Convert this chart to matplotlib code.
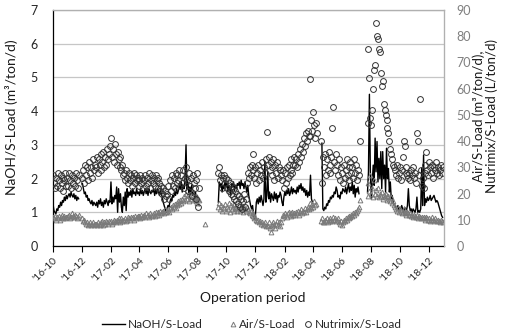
import numpy as np
import pandas as pd
import matplotlib
matplotlib.use('Agg')
import matplotlib.pyplot as plt
import matplotlib.dates as mdates
from matplotlib.lines import Line2D

nan = np.nan
start_date = '2016-10-01'
step = '2D'

# NaOH/S-Load (m3/ton/d), left axis; one row = 15 samples (30 days)
naoh = [
 1.25, 1.05, 1.0, 0.95, 1.1, 1.05, 1.2, 1.15, 1.3, 1.2, 1.35, 1.3, 1.45, 1.35, 1.5,
 1.4, 1.5, 1.55, 1.45, 1.6, 1.5, 1.45, 1.55, 1.4, 1.5, 1.35, 1.45, 1.4, nan, nan,
 nan, 1.85, 1.7, 1.55, 1.6, 1.45, 1.5, 1.35, 1.4, 1.3, 1.25, 1.35, 1.2, 1.3, 1.25,
 1.2, 1.3, 1.15, 1.35, 1.25, 1.4, 1.2, 1.3, 1.15, 1.35, 1.25, 1.4, 1.3, 1.2, 1.35,
 1.3, 1.9, 1.25, 1.45, 1.3, 1.5, 1.4, 1.75, 1.0, 1.7, 1.3, 1.55, 1.15, 1.0, 1.45,
 1.2, 1.6, 1.05, 1.7, 1.45, 1.6, 1.5, 1.65, 1.45, 1.7, 1.55, 1.6, 1.5, 1.7, 1.55,
 1.6, 1.5, 1.7, 1.55, 1.65, 1.5, 1.6, 1.7, 1.55, 1.65, 1.5, 1.7, 1.6, 1.55, 1.65,
 1.6, 1.7, 1.5, 1.65, 1.55, 1.7, 1.6, 1.5, 1.65, 1.55, 1.45, 1.3, 1.2, 1.1, 1.0,
 1.1, 1.2, 1.15, 1.3, 1.4, 1.35, 1.5, 1.45, 1.6, 1.5, 1.7, 1.55, 1.65, 1.8, 1.7,
 1.9, 1.6, 1.8, 1.7, 2.05, 3.0, 1.7, 1.9, 1.55, 1.75, 1.6, 1.8, 1.5, 1.65, 1.4,
 1.6, 1.3, 1.5, 1.25, 1.2, nan, nan, nan, nan, nan, nan, nan, nan, nan, nan,
 nan, nan, nan, nan, nan, nan, nan, nan, nan, 1.3, 1.9, 1.75, 1.85, 1.6, 1.8,
 1.7, 1.9, 1.75, 1.85, 1.6, 1.8, 1.7, 1.5, 1.85, 1.75, 1.9, 1.65, 1.8, 1.7, 1.85,
 1.8, 1.9, 1.7, 1.95, 1.8, 1.85, 1.7, 1.9, 1.75, 1.6, 1.8, 1.5, 1.35, 1.2, 1.1,
 1.2, 0.95, 0.8, 0.9, 1.3, 1.4, 1.25, 1.45, 1.3, 1.5, 1.35, 1.2, 1.4, 2.5, 1.3,
 1.5, 2.2, 1.4, 1.6, 1.3, 1.55, 1.45, 1.35, 1.6, 1.4, 1.55, 1.3, 1.5, 1.45, 1.6,
 1.5, 1.3, 1.2, 1.45, 1.6, 1.5, 1.65, 1.55, 1.7, 1.5, 1.6, 1.75, 1.55, 1.7, 1.6,
 1.65, 1.55, 1.75, 1.6, 1.8, 1.7, 1.85, 1.65, 1.75, 1.6, 1.7, 1.5, 1.65, 1.45, 1.6,
 1.5, 2.1, 1.4, 1.3, nan, nan, nan, nan, nan, nan, nan, nan, nan, 3.05, 1.1,
 1.05, 1.15, 1.1, 1.25, 1.2, 1.35, 1.3, 1.45, 1.4, 1.5, 1.45, 1.6, 1.55, 1.75, 1.65,
 1.45, 1.5, 1.4, 1.6, 1.55, 1.7, 1.65, 1.6, 1.75, 1.55, 1.7, 1.85, 1.6, 1.75, 1.65,
 1.9, 1.55, 1.8, 1.45, 1.7, 1.6, 1.75, 1.55, nan, nan, nan, nan, nan, nan, nan,
 nan, 1.6, 2.2, 4.5, 2.2, 1.4, 1.9, 2.4, 1.8, 3.2, 2.2, 3.1, 1.9, 2.6, 2.0,
 2.8, 1.7, 2.8, 2.0, 2.4, 1.6, 2.9, 2.0, 2.3, 1.6, 1.9, 1.4, 1.5, 1.3, 1.2,
 1.2, 1.15, 1.1, 1.2, 1.05, 1.15, 1.1, 1.2, 1.1, 1.0, 1.15, 1.1, 1.05, 1.2, 1.7,
 1.2, 1.05, 1.1, 1.0, 1.1, 1.05, 1.0, 1.1, 1.45, 1.0, 1.05, 1.0, 1.1, 2.3, 1.2,
 2.7, 1.2, 1.4, 1.3, 1.45, 1.35, 1.4, 1.5, 1.35, 1.4, 1.45, 1.5, 1.4, 1.3, 1.35,
 1.3, 1.2, 1.1, 1.0, 0.9, 0.85,
]

# Air/S-Load (m3/ton/d), right axis
air = [
 11, 10.5, 11.5, 10, 11, 10.5, 11.5, 10, 11, 12, 10.5, 11, 11.5, 10.5, 11,
 11, 11.5, 12, 10.5, 11, 12.5, 11.5, 11, 12, 11.5, 10.5, 11, 12, nan, nan,
 nan, 10.5, 9.5, 10, 9, 8.5, 9, 8, 8.5, 9, 8, 8.5, 9, 8, 8.5,
 8.5, 8, 9, 8.5, 8, 9, 8.5, 9.5, 8, 9, 8.5, 9.5, 9, 8.5, 9.5,
 9, 9.5, 8.5, 9, 10, 9.5, 9, 10, 9.5, 10.5, 9, 10, 10.5, 9.5, 10,
 10, 10.5, 9.5, 10, 11, 10.5, 10, 11, 10.5, 11, 10, 11.5, 10.5, 11, 11.5,
 11, 11.5, 10.5, 12, 11, 11.5, 12, 11, 12.5, 11.5, 12, 11, 12.5, 12, 11.5,
 12, 12.5, 11.5, 13, 12, 12.5, 13, 12, 13.5, 12.5, 13, 13.5, 12.5, 14, 13,
 13.5, 14, 13, 14.5, 15, 14, 15.5, 15, 16, 14.5, 16.5, 15.5, 17, 16, 17.5,
 16.5, 18, 17, 19, 17.5, 20, 18, 19.5, 17, 19, 18, 20.5, 17.5, 19, 18,
 17, 19, 16.5, 18, 17.5, nan, nan, nan, nan, nan, 8.3, nan, nan, nan, nan,
 nan, nan, nan, nan, nan, nan, nan, nan, nan, 15, 16.5, 14, 15.5, 13.5, 15,
 14.5, 16, 13.5, 15, 14, 16.5, 13, 15.5, 14, 15, 13.5, 16, 14.5, 15, 13.5,
 14, 15.5, 13.5, 15, 14.5, 13, 15, 14, 13.5, 15, 14, 13, 12.5, 13.5, 12,
 11.5, 12.5, 10.5, 11, 10, 9.5, 10, 9, 9.5, 8.5, 9, 8, 8.5, 9, 7.5,
 8, 7.5, 9, 7, 5.3, 8.5, 7.5, 9, 8, 7, 8.5, 9.5, 8, 9, 7.5,
 9, 10.5, 12, 11.5, 12.5, 12, 11, 12.5, 13, 12, 11.5, 12.5, 13, 12, 12.5,
 12, 13, 12.5, 13.5, 12, 13, 14, 12.5, 13.5, 13, 14.5, 13, 14, 15, 14,
 15, 16.5, 14.5, 16, 15, 17, 15.5, 16, nan, nan, nan, nan, 9.5, 10.5, 9,
 9, 10, 9.5, 10.5, 9, 10, 9.5, 10.5, 10, 9.5, 11, 10, 10.5, 9.5, 10,
 10.5, 9, 8.5, 9.5, 8, 9, 10, 9.5, 10.5, 10, 11, 10.5, 11.5, 11, 12,
 11.5, 12.5, 12, 13, 12.5, 13.5, 14, 15, 17.5, nan, nan, nan, nan, nan, nan,
 nan, 19, 24, 21, 27, 20, 22, 18.5, 25, 20, 21.5, 19, 22, 18.5, 20,
 19, 20.5, 18, 19.5, 18.5, 20, 19, 17.5, 19, 18, 17, 18.5, 16.5, 17, 15.5,
 15, 14, 13.5, 14.5, 13, 14, 13.5, 12.5, 13, 14, 12.5, 13, 12, 13, 12.5,
 12, 12.5, 11.5, 12, 11, 12, 11.5, 11, 12, 10.5, 11.5, 11, 10.5, 11, 10.5,
 11, 10.5, 10, 11, 10.5, 10, 10.5, 9.5, 10, 11, 10, 9.5, 10.5, 10, 9.5,
 10, 9.5, 9, 10, 9.5, 9,
]

# Nutrimix/S-Load (L/ton/d), right axis
nutrimix = [
 27, 24, 22, 26, 23, 28, 25, 22, 27, 24, 26, 21, 25, 28, 23,
 26, 23, 28, 25, 22, 27, 24, 26, 23, 28, 25, 22, 27, nan, nan,
 nan, 26, 29, 24, 31, 27, 30, 25, 32, 28, 30, 26, 33, 29, 31,
 30, 34, 28, 33, 31, 35, 29, 32, 36, 30, 34, 31, 37, 33, 35,
 38, 41, 34, 37, 32, 39, 35, 31, 36, 33, 30, 34, 29, 31, 27,
 28, 25, 29, 26, 24, 28, 25, 27, 23, 26, 28, 24, 27, 25, 26,
 25, 23, 27, 24, 26, 22, 25, 27, 23, 26, 24, 28, 22, 25, 27,
 24, 26, 23, 27, 25, 22, 26, 24, 21, 23, 20, 22, 18, 21, 19,
 20, 23, 18, 25, 21, 27, 23, 26, 22, 28, 24, 27, 25, 29, 23,
 27, 24, 29, 22, 26, 30, 25, 21, 28, 23, 26, 19, 27, 24, 22,
 25, 18, 28, 15, 22, nan, nan, nan, nan, nan, nan, nan, nan, nan, nan,
 nan, nan, nan, nan, nan, nan, nan, nan, nan, 28, 30, 25, 27, 22, 26,
 27, 24, 26, 22, 25, 21, 24, 20, 23, 19, 22, 18, 21, 17, 20,
 16, 19, 15, 18, 14, 17, 20, 15, 18, 24, 28, 26, 30, 27, 31,
 29, 35, 26, 30, 24, 28, 31, 25, 29, 27, 32, 26, 30, 28, 33,
 43.5, 31, 34, 29, 32, 27, 30, 33, 25, 31, 28, 32, 26, 30, 29,
 27, 25, 29, 22, 28, 24, 30, 26, 31, 27, 29, 33, 28, 31, 34,
 31, 33, 30, 35, 32, 37, 34, 39, 36, 41, 38, 43, 40, 44, 42,
 42, 63.5, 48, 44, 51, 46, 41, 47, 43, nan, nan, nan, 40, 24, 34,
 30, 35, 27, 33, 29, 36, 31, 28, 34, 45, 53, 32, 29, 35, 31,
 27, 33, 25, 30, 28, 24, 31, 26, 29, 33, 27, 30, 25, 32, 28,
 30, 26, 33, 28, 31, 25, 29, 27, 40, nan, nan, nan, nan, nan, nan,
 nan, 47, 75, 64, 49, 46, 52, 60, 67, 69, 85, 80, 79, 75, 74,
 66, 61, 63, 54, 52, 50, 48, 45, 43, 40, 37, 35, 33, 31, 30,
 29, 27, 31, 26, 28, 30, 25, 29, 34, 40, 38, 30, 28, 27, 26,
 28, 25, 29, 27, 30, 26, 28, 24, 43, 40, 27, 56, 29, 23, 26,
 22, 28, 31, 36, 29, 27, 32, 30, 28, 31, 26, 30, 29, 32, 28,
 30, 27, 29, 31, 28, 30,
]

left_ticks = [0, 1, 2, 3, 4, 5, 6, 7]
right_ticks = [0, 10, 20, 30, 40, 50, 60, 70, 80, 90]

dates = pd.date_range(start_date, periods=len(naoh), freq=step)

plt.rcParams['font.family'] = ['Lato', 'DejaVu Sans']

W, H = 506, 335
fig = plt.figure(figsize=(W / 100, H / 100), dpi=100)
L, R, T, B = 53, 444, 10, 246
ax = fig.add_axes([L / W, 1 - B / H, (R - L) / W, (B - T) / H])
ax2 = ax.twinx()

tri_style = dict(ls='none', marker='^', ms=3.4, mfc='none', mec='#7a7a7a', mew=0.7)
cir_style = dict(ls='none', marker='o', ms=4.2, mfc='none', mec='#333333', mew=0.7)

ax.plot(dates, naoh, color='black', lw=1.0, zorder=3)
ax2.plot(dates, air, **tri_style)
ax2.plot(dates, nutrimix, **cir_style)

ax.set_xlim(pd.Timestamp('2016-10-01'), pd.Timestamp('2019-01-02'))
ax.set_ylim(0, 7)
ax2.set_ylim(0, 90)
ax.set_yticks(left_ticks)
ax2.set_yticks(right_ticks)

ax.xaxis.set_major_locator(mdates.MonthLocator(bymonth=[2, 4, 6, 8, 10, 12], bymonthday=1))
ax.xaxis.set_major_formatter(mdates.DateFormatter("\u2019%y-%m"))
ax.tick_params(axis='x', length=4, width=0.8, color='black', labelsize=7.5,
               pad=3, labelcolor='#262626')
for lab in ax.get_xticklabels():
    lab.set_rotation(45)
    lab.set_ha('right')
    lab.set_rotation_mode('anchor')
ax.tick_params(axis='y', length=0, pad=11, labelsize=9, labelcolor='#262626')
ax2.tick_params(axis='y', length=0, pad=9, labelsize=9, labelcolor='#7f7f7f')

ax.yaxis.grid(True, color='#c6c6c6', lw=0.9)
ax.set_axisbelow(True)

for s in ['left', 'bottom']:
    ax.spines[s].set_color('black')
    ax.spines[s].set_linewidth(0.9)
for s in ['top', 'right']:
    ax.spines[s].set_color('#b0b0b0')
    ax.spines[s].set_linewidth(0.9)
ax2.spines['left'].set_visible(False)
ax2.spines['bottom'].set_visible(False)
ax2.spines['top'].set_color('#b0b0b0')
ax2.spines['right'].set_color('#b0b0b0')

fig.text(12 / W, 1 - 117 / H, 'NaOH/S-Load (m³/ton/d)', rotation=90,
         ha='center', va='center', fontsize=10, color='#1a1a1a')
fig.text(485 / W, 1 - 116 / H, 'Air/S-Load (m³/ton/d),\nNutrimix/S-Load (L/ton/d)',
         rotation=90, ha='center', va='center', multialignment='center',
         fontsize=9.5, color='#1a1a1a', linespacing=1.0)
fig.text(253 / W, 1 - 298 / H, 'Operation period', ha='center', va='center',
         fontsize=10, color='#1a1a1a')

ly = 1 - 324 / H
fig.add_artist(Line2D([102 / W, 125 / W], [ly, ly], transform=fig.transFigure,
                      color='black', lw=1.0))
fig.text(128 / W, ly, 'NaOH/S-Load', va='center', fontsize=8.5, color='#262626')
fig.add_artist(Line2D([233 / W], [ly], transform=fig.transFigure, **tri_style))
fig.text(239 / W, ly, 'Air/S-Load', va='center', fontsize=8.5, color='#262626')
fig.add_artist(Line2D([308 / W], [ly], transform=fig.transFigure, **cir_style))
fig.text(315 / W, ly, 'Nutrimix/S-Load', va='center', fontsize=8.5, color='#262626')

fig.savefig('out.png', dpi=100)
